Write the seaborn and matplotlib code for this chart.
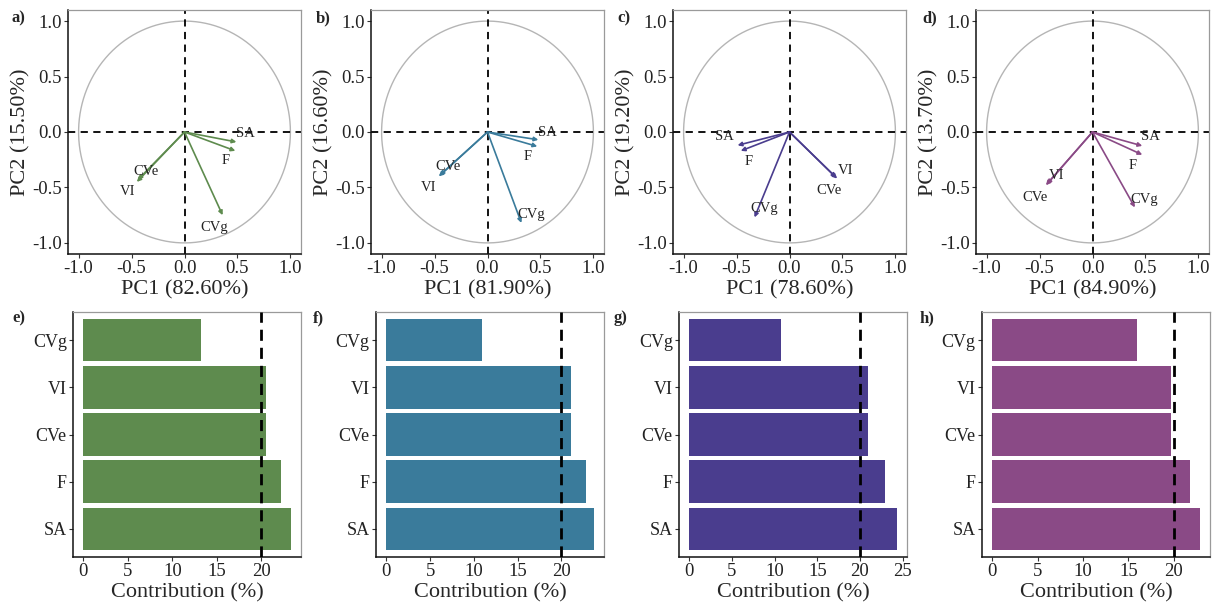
import numpy as np
import pandas as pd
import matplotlib
matplotlib.use("Agg")
import matplotlib.pyplot as plt
import seaborn as sns
from matplotlib.ticker import FuncFormatter

# ---------------- data ----------------
variables = ["SA", "F", "CVe", "VI", "CVg"]

# PCA loadings (PC1, PC2) per panel
a_pc1 = [0.49, 0.48, -0.44, -0.45, 0.36]
a_pc2 = [-0.09, -0.17, -0.43, -0.45, -0.75]
b_pc1 = [0.48, 0.47, -0.45, -0.46, 0.32]
b_pc2 = [-0.07, -0.13, -0.39, -0.40, -0.82]
c_pc1 = [-0.49, -0.46, 0.44, 0.45, -0.33]
c_pc2 = [-0.12, -0.17, -0.41, -0.42, -0.77]
d_pc1 = [0.47, 0.47, -0.44, -0.43, 0.40]
d_pc2 = [-0.125, -0.205, -0.48, -0.47, -0.68]

# label positions (repelled text) per panel
a_lab_x = [0.58, 0.39, -0.36, -0.54, 0.28]
a_lab_y = [-0.01, -0.26, -0.36, -0.54, -0.86]
b_lab_x = [0.57, 0.38, -0.37, -0.56, 0.41]
b_lab_y = [0.0, -0.22, -0.31, -0.50, -0.74]
c_lab_x = [-0.61, -0.39, 0.37, 0.53, -0.24]
c_lab_y = [-0.04, -0.27, -0.53, -0.35, -0.69]
d_lab_x = [0.55, 0.38, -0.54, -0.34, 0.49]
d_lab_y = [-0.045, -0.30, -0.59, -0.39, -0.61]

pc1_var = ["82.60%", "81.90%", "78.60%", "84.90%"]
pc2_var = ["15.50%", "16.60%", "19.20%", "13.70%"]

# contributions (%) – order top to bottom
contrib_vars = ["CVg", "VI", "CVe", "F", "SA"]
e_contrib = [13.2, 20.5, 20.5, 22.25, 23.3]
f_contrib = [10.9, 21.1, 21.1, 22.8, 23.7]
g_contrib = [10.8, 20.9, 20.9, 22.9, 24.3]
h_contrib = [16.0, 19.7, 19.7, 21.8, 22.85]
threshold = 20

colors = ["#5E8B4E", "#3A7B9B", "#4A3D8E", "#8A4A86"]
top_letters = ["a)", "b)", "c)", "d)"]
bottom_letters = ["e)", "f)", "g)", "h)"]

# ---------------- style ----------------
sns.set_style("white")
plt.rcParams["font.family"] = ["Liberation Serif", "DejaVu Serif"]
plt.rcParams["axes.unicode_minus"] = False

fig = plt.figure(figsize=(12.25, 6.08), dpi=100)

top_lefts = [68, 371, 673, 976]
top_w = 233
bottom_lefts = [73, 376, 679, 982]
bottom_w = 228
W, H = 1225, 608

top_axes = [fig.add_axes([l / W, 1 - 254 / H, top_w / W, 244 / H]) for l in top_lefts]
bot_axes = [fig.add_axes([l / W, 1 - 557 / H, bottom_w / W, 245 / H]) for l in bottom_lefts]

def style_spines(ax):
    for s in ["top", "right"]:
        ax.spines[s].set_color("#9a9a9a")
        ax.spines[s].set_linewidth(0.9)
    for s in ["left", "bottom"]:
        ax.spines[s].set_color("#111111")
        ax.spines[s].set_linewidth(1.1)
    ax.tick_params(axis="both", which="both", length=3, width=0.8, color="#333333",
                   labelsize=13.5, labelcolor="#222222", pad=1.5, direction="out",
                   bottom=True, left=True)
    ax.grid(False)

fmt = FuncFormatter(lambda v, p: ("-" if v < -1e-9 else "") + f"{abs(v):.1f}")

pcs = [(a_pc1, a_pc2, a_lab_x, a_lab_y), (b_pc1, b_pc2, b_lab_x, b_lab_y),
       (c_pc1, c_pc2, c_lab_x, c_lab_y), (d_pc1, d_pc2, d_lab_x, d_lab_y)]

theta = np.linspace(0, 2 * np.pi, 400)
for i, ax in enumerate(top_axes):
    pc1, pc2, lx, ly = pcs[i]
    ax.plot(np.cos(theta), np.sin(theta), color="#b5b5b5", lw=1.0, zorder=1)
    ax.axhline(0, color="black", ls=(0, (4, 3)), lw=1.3, zorder=2)
    ax.axvline(0, color="black", ls=(0, (4, 3)), lw=1.3, zorder=2)
    for x, y in zip(pc1, pc2):
        ax.annotate("", xy=(x, y), xytext=(0, 0),
                    arrowprops=dict(arrowstyle="-|>", color=colors[i], lw=1.2,
                                    mutation_scale=6, shrinkA=0, shrinkB=0),
                    zorder=3)
    for name, x, y in zip(variables, lx, ly):
        ax.text(x, y, name, fontsize=10.5, ha="center", va="center", color="#222222", zorder=4)
    ax.set_xlim(-1.1, 1.1)
    ax.set_ylim(-1.1, 1.1)
    ax.set_xticks([-1.0, -0.5, 0.0, 0.5, 1.0])
    ax.set_yticks([-1.0, -0.5, 0.0, 0.5, 1.0])
    ax.xaxis.set_major_formatter(fmt)
    ax.yaxis.set_major_formatter(fmt)
    ax.set_xlabel(f"PC1 ({pc1_var[i]})", fontsize=16, labelpad=2)
    ax.set_ylabel(f"PC2 ({pc2_var[i]})", fontsize=16, labelpad=1)
    style_spines(ax)

contribs = [e_contrib, f_contrib, g_contrib, h_contrib]
for i, ax in enumerate(bot_axes):
    df = pd.DataFrame({"var": contrib_vars, "contrib": contribs[i]})
    sns.barplot(data=df, x="contrib", y="var", order=contrib_vars, orient="h",
                color=colors[i], saturation=1, width=0.9, ax=ax, edgecolor="none")
    ax.axvline(threshold, color="black", ls=(0, (4, 2.5)), lw=2.0, zorder=5)
    mx = max(contribs[i])
    ax.set_xlim(-0.05 * mx, 1.05 * mx)
    ax.set_ylim(4.6, -0.6)
    ticks = [t for t in [0, 5, 10, 15, 20, 25] if t <= 1.05 * mx]
    ax.set_xticks(ticks)
    ax.set_xlabel("Contribution (%)", fontsize=16, labelpad=2)
    ax.set_ylabel("")
    style_spines(ax)
    ax.tick_params(axis="y", labelsize=13)

for l, x in zip(top_letters, [12, 316, 617, 922]):
    fig.text(x / W, 1 - 18 / H, l, fontsize=12, fontweight="bold", ha="left", va="center")
for l, x in zip(bottom_letters, [12, 313, 614, 920]):
    fig.text(x / W, 1 - 318 / H, l, fontsize=12, fontweight="bold", ha="left", va="center")

fig.savefig("out.png", dpi=100)
